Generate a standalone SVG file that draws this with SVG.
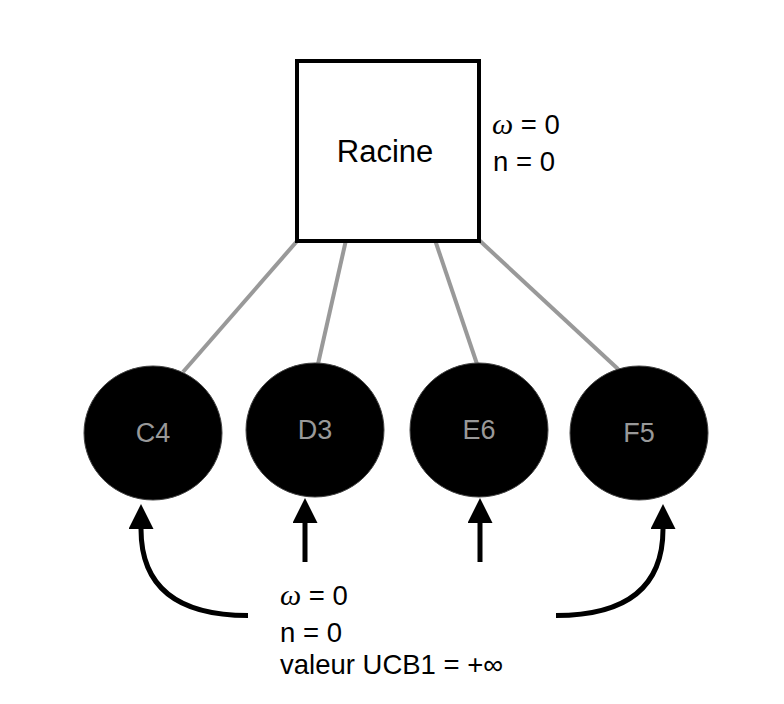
<svg xmlns="http://www.w3.org/2000/svg" width="784" height="704" viewBox="0 0 784 704">
<defs>
<style>
.t{font-family:"Liberation Sans",Arial,sans-serif;font-size:27.5px;fill:#000}
.r{font-size:31px}
.w{font-family:"Liberation Serif","Times New Roman",serif;font-style:italic;font-size:30px}
.lbl{font-family:"Liberation Sans",Arial,sans-serif;font-size:27px;fill:#999;text-anchor:middle}
.edge{stroke:#999;stroke-width:4;fill:none}
.arr{stroke:#000;stroke-width:5;fill:none}
.leaf{fill:#000;stroke:#444;stroke-width:1}
</style>
<marker id="ah" viewBox="0 0 10 10" refX="0" refY="5" markerWidth="5" markerHeight="5" markerUnits="strokeWidth" orient="auto">
<path d="M0,0 L10,5 L0,10 Z" fill="#000"/>
</marker>
</defs>
<rect width="784" height="704" fill="#fff"/>
<g id="connectors">
<line class="edge" x1="298" y1="240" x2="183" y2="372"/>
<line class="edge" x1="346" y1="240" x2="318" y2="364"/>
<line class="edge" x1="435" y1="240" x2="477" y2="364"/>
<line class="edge" x1="479" y1="240" x2="618" y2="369"/>
<path class="arr" d="M248,615.5 Q141,615.5 141,529" marker-end="url(#ah)"/>
<line class="arr" x1="305" y1="562" x2="305" y2="523" marker-end="url(#ah)"/>
<line class="arr" x1="480" y1="562" x2="480" y2="523" marker-end="url(#ah)"/>
<path class="arr" d="M556,615.5 Q663,615.5 663,529" marker-end="url(#ah)"/>
</g>
<g id="racine">
<rect x="297" y="61" width="182" height="180" fill="#fff" stroke="#000" stroke-width="4"/>
<text class="t r" x="385" y="162" text-anchor="middle">Racine</text>
<text class="t" x="492" y="134"><tspan class="w">ω</tspan> = 0</text>
<text class="t" x="493" y="171">n = 0</text>
</g>
<g id="c4">
<ellipse class="leaf" cx="153" cy="433" rx="69" ry="67"/>
<text class="lbl" x="153" y="442">C4</text>
</g>
<g id="d3">
<ellipse class="leaf" cx="315" cy="430" rx="69" ry="67"/>
<text class="lbl" x="315" y="439">D3</text>
</g>
<g id="e6">
<ellipse class="leaf" cx="479" cy="430" rx="69" ry="67"/>
<text class="lbl" x="479" y="439">E6</text>
</g>
<g id="f5">
<ellipse class="leaf" cx="639" cy="433" rx="69" ry="67"/>
<text class="lbl" x="639" y="442">F5</text>
</g>
<g id="info">
<text class="t" x="280" y="605"><tspan class="w">ω</tspan> = 0</text>
<text class="t" x="280" y="642">n = 0</text>
<text class="t" x="280" y="674">valeur UCB1 = +∞</text>
</g>
</svg>
